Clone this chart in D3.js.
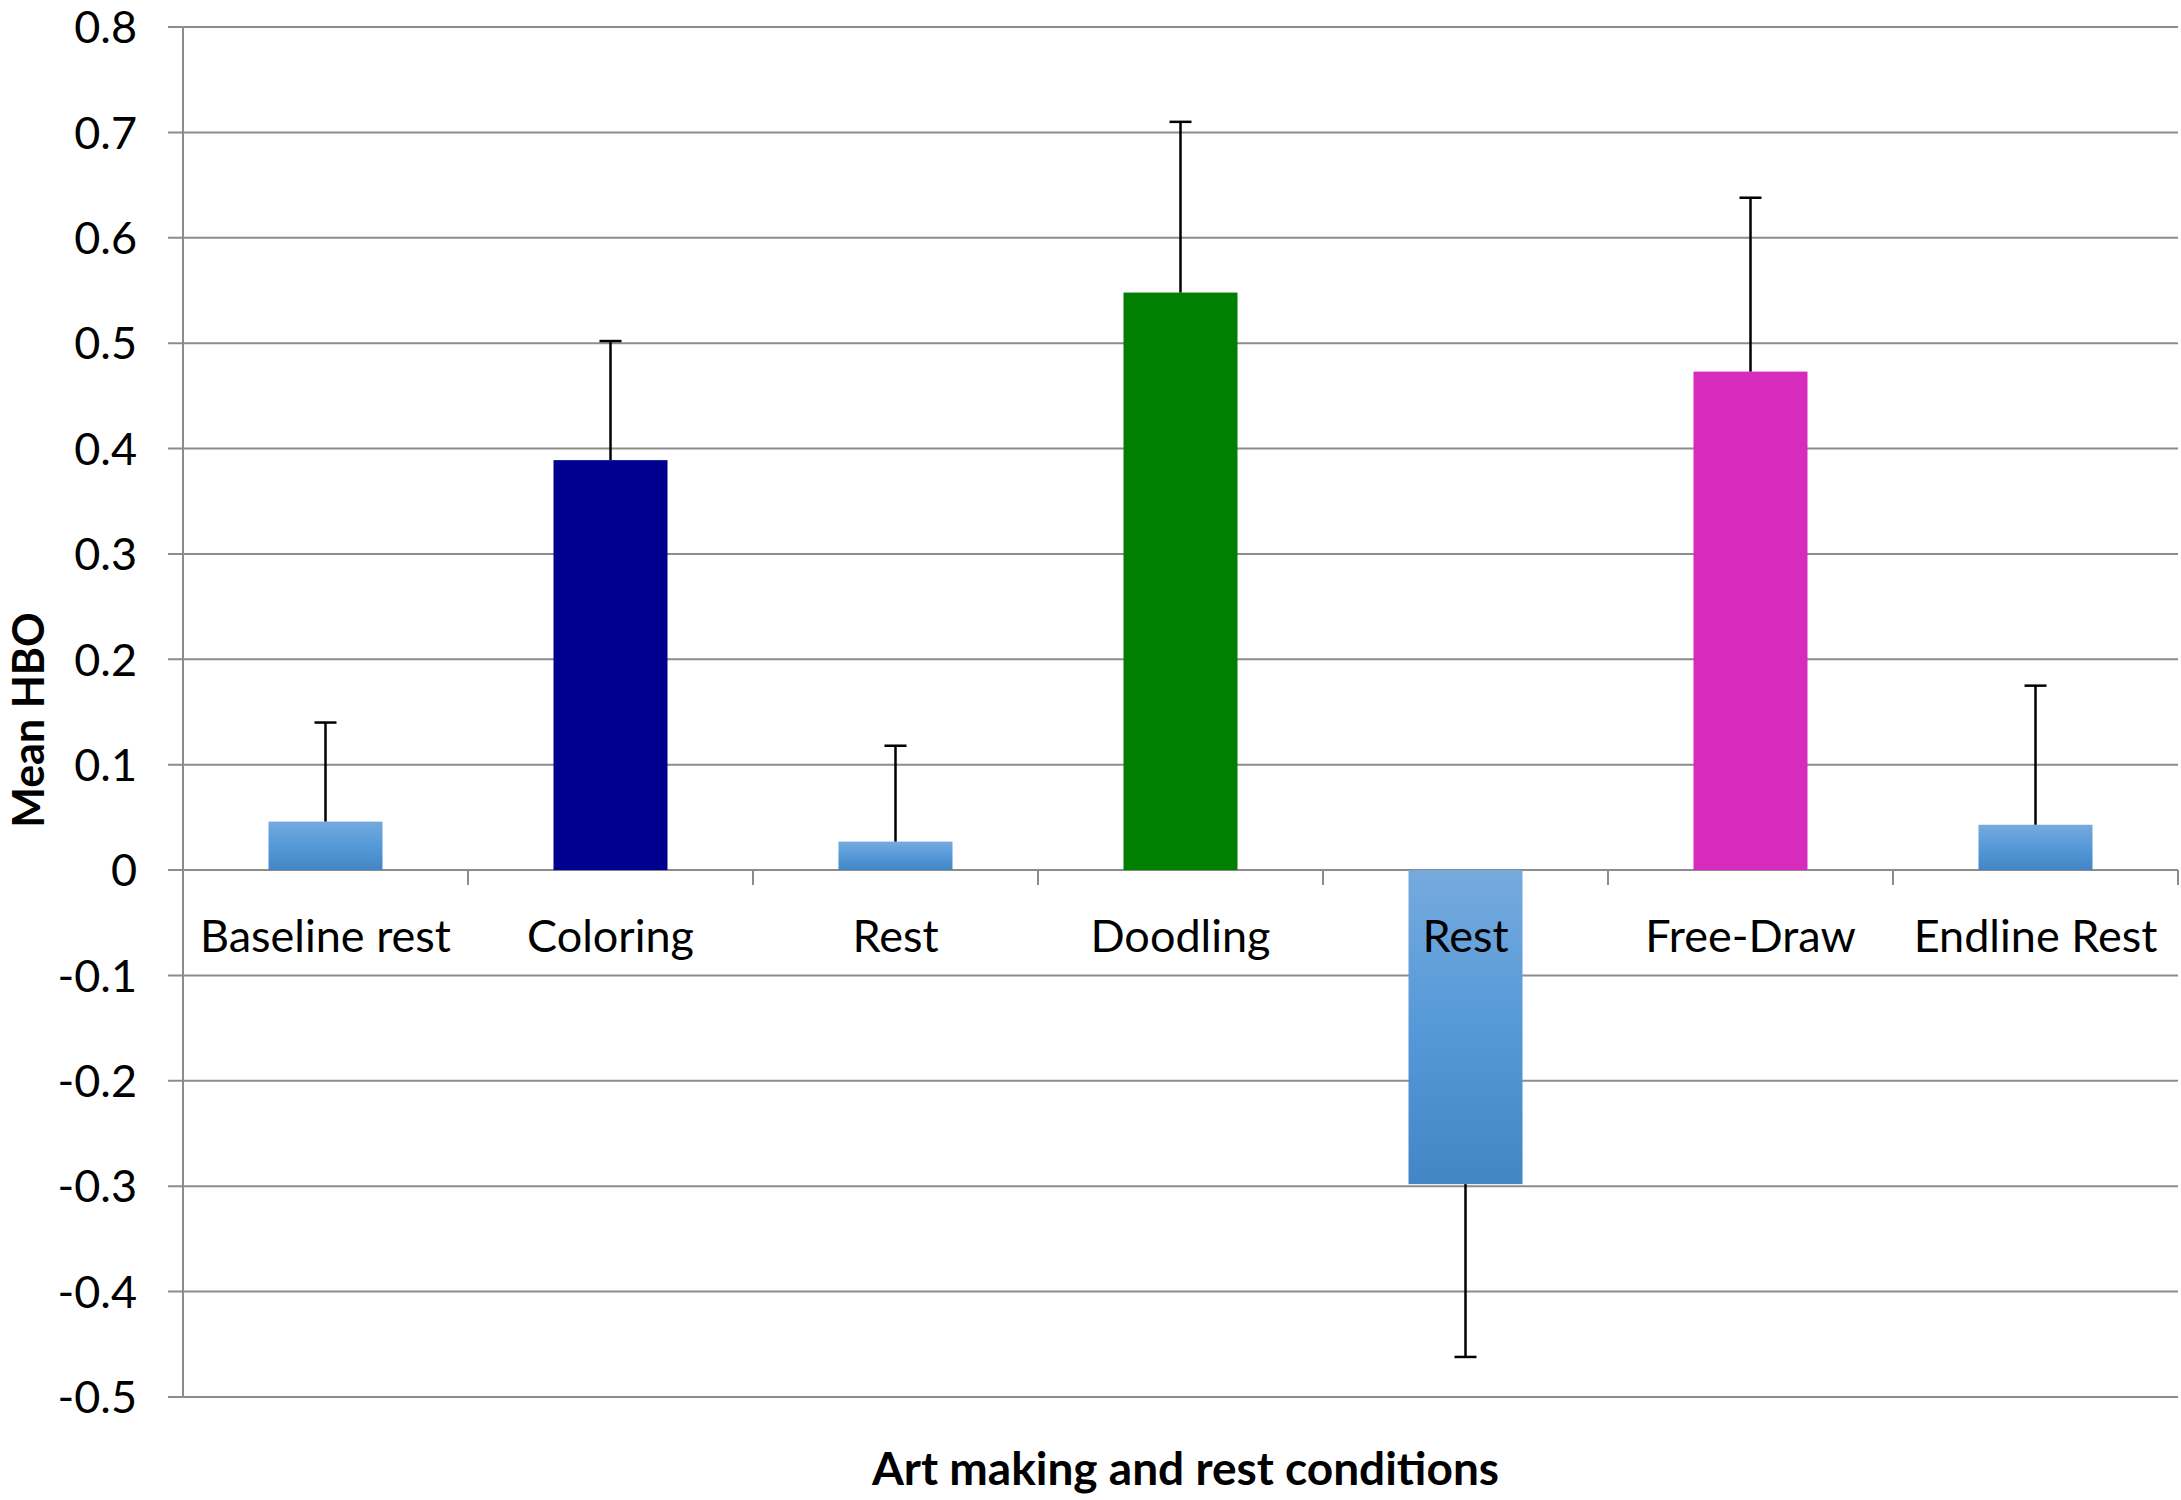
<!DOCTYPE html>
<html><head><meta charset="utf-8">
<script src="https://cdn.jsdelivr.net/npm/d3@7"></script>
<style>body{margin:0;background:#fff}svg{display:block}</style>
</head><body>
<script>
const categories = ["Baseline rest","Coloring","Rest","Doodling","Rest","Free-Draw","Endline Rest"];
const values = [0.046, 0.389, 0.027, 0.548, -0.298, 0.473, 0.043];
const errors = [0.094, 0.113, 0.091, 0.162, 0.164, 0.165, 0.132];
const barColors = ["rest","#00008f","rest","#007f00","rest","#d62bbd","rest"];
const yTicks = [0.8,0.7,0.6,0.5,0.4,0.3,0.2,0.1,0,-0.1,-0.2,-0.3,-0.4,-0.5];

const W = 2181, H = 1500;
const m = {left:183, right:3, top:27, bottom:103};
const svg = d3.select("body").append("svg").attr("width",W).attr("height",H);
const defs = svg.append("defs");
const grad = defs.append("linearGradient").attr("id","restGrad").attr("x1",0).attr("y1",0).attr("x2",0).attr("y2",1);
grad.append("stop").attr("offset","0%").attr("stop-color","#76aade");
grad.append("stop").attr("offset","50%").attr("stop-color","#5599d8");
grad.append("stop").attr("offset","100%").attr("stop-color","#4386c5");

const x = d3.scaleBand().domain(d3.range(categories.length)).range([m.left, W-m.right]).paddingInner(0.6).paddingOuter(0.3);
const y = d3.scaleLinear().domain([-0.5,0.8]).range([H-m.bottom, m.top]);
const font = "Lato, 'Open Sans', sans-serif";
const grid = "#8c8c8c";

// gridlines
svg.append("g").selectAll("line").data(yTicks).join("line")
  .attr("x1", m.left-15).attr("x2", W-m.right)
  .attr("y1", d=>y(d)).attr("y2", d=>y(d))
  .attr("stroke", grid).attr("stroke-width", 2);
// y axis line
svg.append("line").attr("x1",m.left).attr("x2",m.left).attr("y1",y(0.8)).attr("y2",y(-0.5))
  .attr("stroke",grid).attr("stroke-width",2);
// y tick labels
svg.append("g").selectAll("text").data(yTicks).join("text")
  .attr("x", 137).attr("y", d=>y(d)).attr("dy","0.36em")
  .attr("text-anchor","end").attr("font-family",font).attr("font-size",45).attr("fill","#000")
  .text(d=>d3.format(".1~f")(d).replace("\u2212","-"));
// category ticks below zero
const bounds = d3.range(categories.length+1).map(i => m.left + i*(W-m.right-m.left)/categories.length);
svg.append("g").selectAll("line").data(bounds.slice(1)).join("line")
  .attr("x1",d=>d).attr("x2",d=>d).attr("y1",y(0)).attr("y2",y(0)+15)
  .attr("stroke",grid).attr("stroke-width",2);

// bars
svg.append("g").selectAll("rect").data(values).join("rect")
  .attr("x",(d,i)=>x(i)).attr("width",x.bandwidth())
  .attr("y",d=>y(Math.max(0,d))).attr("height",d=>Math.abs(y(d)-y(0)))
  .attr("fill",(d,i)=>barColors[i]==="rest"?"url(#restGrad)":barColors[i]);

// error bars
const eb = svg.append("g").attr("stroke","#000").attr("stroke-width",2.5);
values.forEach((v,i)=>{
  const cx = x(i)+x.bandwidth()/2;
  const end = v>=0 ? v+errors[i] : v-errors[i];
  eb.append("line").attr("x1",cx).attr("x2",cx).attr("y1",y(v)).attr("y2",y(end));
  eb.append("line").attr("x1",cx-11).attr("x2",cx+11).attr("y1",y(end)).attr("y2",y(end));
});

// category labels
svg.append("g").selectAll("text").data(categories).join("text")
  .attr("x",(d,i)=>x(i)+x.bandwidth()/2).attr("y",y(0)+82)
  .attr("text-anchor","middle").attr("font-family",font).attr("font-size",45).attr("fill","#000")
  .text(d=>d);

// axis titles
svg.append("text").attr("x",(m.left+W-m.right)/2+5).attr("y",1485)
  .attr("text-anchor","middle").attr("font-family",font).attr("font-weight","bold").attr("font-size",46)
  .text("Art making and rest conditions");
svg.append("text").attr("transform","translate(44,720) rotate(-90)")
  .attr("text-anchor","middle").attr("font-family",font).attr("font-weight","bold").attr("font-size",43)
  .text("Mean HBO");
</script>
</body></html>
